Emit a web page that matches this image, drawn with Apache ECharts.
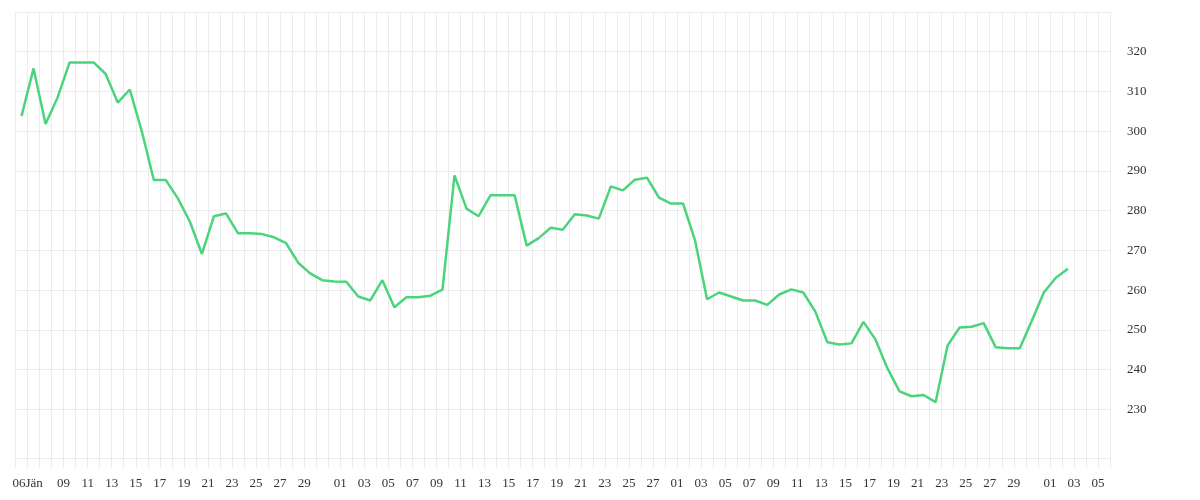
<!DOCTYPE html>
<html>
<head>
<meta charset="utf-8">
<script src="https://cdn.jsdelivr.net/npm/echarts@6/dist/echarts.min.js"></script>
<style>
    html, body { margin: 0; padding: 0; background: #fff; }
    #main { width: 1200px; height: 500px; }
</style>
</head>
<body>
<div id="main"></div>
<script>
// Tage vom 05.01. bis 05.04.2019 (Kategorien)
var startDay = new Date(2019, 0, 5)
var dayCount = 91
var days = []
for (var i = 0; i < dayCount; i++) {
    var d = new Date(startDay.getFullYear(), startDay.getMonth(), startDay.getDate() + i)
    days.push((d.getMonth() + 1) + '-' + d.getDate())
}

// Kurswerte (05.01. - 02.04.)
var values = [
    303.8, 315.8, 301.8, 308.5, 317.3, 317.3, 317.3, 314.4, 307.2, 310.5,
    300.0, 287.7, 287.7, 283.1, 277.2, 269.1, 278.6, 279.3, 274.3, 274.3,
    274.1, 273.3, 271.8, 266.9, 264.2, 262.5, 262.2, 262.1, 258.4, 257.4,
    262.5, 255.7, 258.2, 258.2, 258.6, 260.1, 288.9, 280.5, 278.6, 283.9,
    283.9, 283.9, 271.2, 273.1, 275.7, 275.2, 279.1, 278.8, 278.0, 286.1,
    285.1, 287.8, 288.3, 283.3, 281.8, 281.8, 272.5, 257.7, 259.4, 258.4,
    257.4, 257.4, 256.3, 258.9, 260.2, 259.4, 254.6, 246.9, 246.3, 246.6,
    252.0, 247.6, 240.3, 234.5, 233.3, 233.6, 231.8, 246.1, 250.6, 250.8,
    251.7, 245.6, 245.4, 245.4, 252.3, 259.4, 263.1, 265.4
]

// y-Achse
var yMin = 217.75
var yMax = 330
var yGridValues = [230, 240, 250, 260, 270, 280, 290, 300, 310, 320, 330]
var yLabelValues = [230, 240, 250, 260, 270, 280, 290, 300, 310, 320]

var monthNames = ['Jän', 'Feb', 'Mär', 'Apr']

var myChart = echarts.init(document.getElementById('main'))
var gridColor = '#ececec'

var option = {
    animation: false,
    grid: {
        left: 15.5,
        right: 90,
        top: 12,
        bottom: 42
    },
    xAxis: {
        type: 'category',
        data: days,
        boundaryGap: true,
        axisLine: { show: true, lineStyle: { color: gridColor, width: 1 } },
        axisTick: {
            show: true,
            interval: 0,
            length: 10,
            lineStyle: { color: gridColor }
        },
        splitLine: {
            show: true,
            interval: 0,
            lineStyle: { color: gridColor, width: 1 }
        },
        axisLabel: {
            // nur ungerade Tage (ohne 31.), erster Tag mit Monatsname
            interval: function (index, value) {
                var day = +value.split('-')[1]
                if (index === 1) return true
                if (index < 3) return false
                return day % 2 === 1 && day !== 31
            },
            formatter: function (value, index) {
                var parts = value.split('-')
                var day = parts[1].length < 2 ? '0' + parts[1] : parts[1]
                if (index === 1) return day + monthNames[+parts[0] - 1]
                return day
            },
            // Beschriftung am Tagesbeginn (linke Bandkante)
            padding: [0, 12, 0, 0],
            margin: 19,
            color: '#333',
            fontFamily: 'Liberation Serif',
            fontSize: 13
        }
    },
    yAxis: {
        type: 'value',
        position: 'right',
        min: yMin,
        max: yMax,
        axisLine: { show: false },
        axisTick: { show: false, customValues: yGridValues },
        splitLine: {
            show: true,
            lineStyle: { color: gridColor, width: 1 }
        },
        axisLabel: {
            customValues: yLabelValues,
            margin: 17,
            color: '#333',
            fontFamily: 'Liberation Serif',
            fontSize: 13
        }
    },
    series: [
        {
            type: 'line',
            data: values,
            showSymbol: false,
            symbol: 'none',
            lineStyle: { color: '#4cd47c', width: 2.5 },
            itemStyle: { color: '#4cd47c' }
        }
    ]
}
myChart.setOption(option)
</script>
</body>
</html>
